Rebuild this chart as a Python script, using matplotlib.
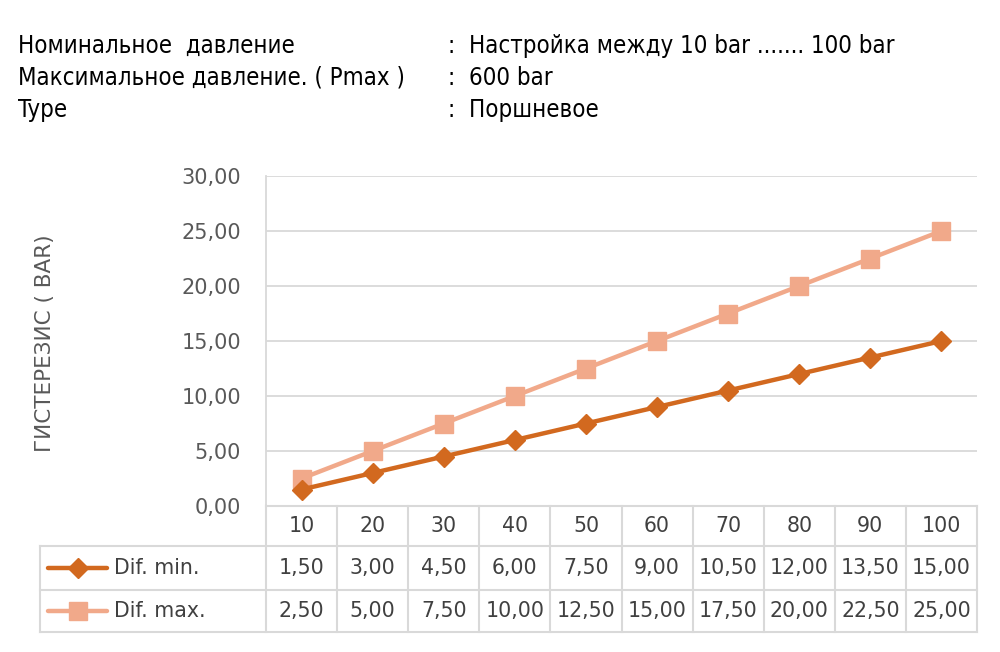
import matplotlib
matplotlib.use("Agg")
import matplotlib.pyplot as plt
from matplotlib import font_manager
from matplotlib.lines import Line2D

# === DADOS ===
pressao = ["10", "20", "30", "40", "50", "60", "70", "80", "90", "100"]
dif_min = [1.5, 3.0, 4.5, 6.0, 7.5, 9.0, 10.5, 12.0, 13.5, 15.0]
dif_max = [2.5, 5.0, 7.5, 10.0, 12.5, 15.0, 17.5, 20.0, 22.5, 25.0]
nomes_series = ["Dif. min.", "Dif. max."]
yticks = [0, 5, 10, 15, 20, 25, 30]

cabecalho_esq = ["Номинальное  давление", "Максимальное давление. ( Pmax )", "Type"]
cabecalho_dir = [":  Настройка между 10 bar ....... 100 bar", ":  600 bar", ":  Поршневое"]
rotulo_y = "ГИСТЕРЕЗИС ( BAR)"

COR_MIN = "#D2691F"
COR_MAX = "#F1A98A"
COR_GRADE = "#D9D9D9"
COR_TEXTO = "#404040"
COR_TICK = "#595959"

# fonte estreita para o cabeçalho, se existir
nomes = {f.name for f in font_manager.fontManager.ttflist}
estreita = {"family": "DejaVu Sans", "stretch": "condensed"}
if "Liberation Sans Narrow" in nomes:
    estreita = {"family": "Liberation Sans Narrow"}

W, H = 1000, 652
fig = plt.figure(figsize=(W / 100, H / 100), dpi=100)


def fx(px):
    return px / W


def fy(py):
    return 1 - py / H


# === CABEÇALHO ===
for i, (a, b) in enumerate(zip(cabecalho_esq, cabecalho_dir)):
    y = fy(46 + 32 * i)
    fig.text(fx(18), y, a, fontsize=17.2, color="black", va="center", **estreita)
    fig.text(fx(448), y, b, fontsize=17.2, color="black", va="center", **estreita)

# === GRÁFICO ===
x0, x1, y0, y1 = 266, 977, 506, 176
ax = fig.add_axes([fx(x0), fy(y0), fx(x1) - fx(x0), fy(y1) - fy(y0)])
n = len(pressao)
xs = [i + 0.5 for i in range(n)]
ax.set_xlim(0, n)
ax.set_ylim(0, 30)
ax.plot(xs, dif_max, color=COR_MAX, lw=3.2, marker="s", markersize=13, zorder=3)
ax.plot(xs, dif_min, color=COR_MIN, lw=3.2, marker="D", markersize=10, zorder=4)
ax.set_yticks(yticks)
ax.set_yticklabels([f"{v:.2f}".replace(".", ",") for v in yticks])
ax.tick_params(axis="y", length=0, pad=18, labelsize=15, labelcolor=COR_TICK)
ax.set_xticks([])
for v in yticks:
    ax.axhline(v, color=COR_GRADE, lw=1.3, zorder=1)
for s in ["top", "right", "bottom"]:
    ax.spines[s].set_visible(False)
ax.spines["left"].set_color(COR_GRADE)
ax.spines["left"].set_linewidth(1.3)
fig.text(fx(45), fy(343), rotulo_y, rotation=90, fontsize=15.5, color=COR_TICK,
         ha="center", va="center")

# === TABELA DE DADOS ===
linhas_y = [506, 546, 590, 632]
esq_tab = 40
col_w = (x1 - x0) / n


def hline(xa, xb, py):
    fig.add_artist(Line2D([fx(xa), fx(xb)], [fy(py), fy(py)], color=COR_GRADE, lw=1.5))


def vline(px, ya, yb):
    fig.add_artist(Line2D([fx(px), fx(px)], [fy(ya), fy(yb)], color=COR_GRADE, lw=1.5))


hline(x0, x1, linhas_y[0])
for py in linhas_y[1:]:
    hline(esq_tab, x1, py)
for i in range(n + 1):
    vline(x0 + i * col_w, linhas_y[0], linhas_y[-1])
vline(esq_tab, linhas_y[1], linhas_y[-1])

fonte_tab = 14.8
for i, p in enumerate(pressao):
    cx = x0 + (i + 0.5) * col_w
    fig.text(fx(cx), fy((linhas_y[0] + linhas_y[1]) / 2), p, fontsize=fonte_tab,
             color=COR_TEXTO, ha="center", va="center")

series = [(dif_min, COR_MIN, "D", 10), (dif_max, COR_MAX, "s", 13)]
for r, ((vals, cor, mk, ms), nome) in enumerate(zip(series, nomes_series)):
    cy = (linhas_y[r + 1] + linhas_y[r + 2]) / 2
    fig.add_artist(Line2D([fx(48), fx(107)], [fy(cy), fy(cy)], color=cor, lw=3.2,
                          solid_capstyle="round"))
    fig.add_artist(Line2D([fx(78)], [fy(cy)], color=cor, marker=mk, markersize=ms,
                          lw=0))
    fig.text(fx(114), fy(cy), nome, fontsize=fonte_tab, color=COR_TEXTO, va="center")
    for i, v in enumerate(vals):
        cx = x0 + (i + 0.5) * col_w
        fig.text(fx(cx), fy(cy), f"{v:.2f}".replace(".", ","), fontsize=fonte_tab,
                 color=COR_TEXTO, ha="center", va="center")

fig.savefig("out.png", dpi=100)
